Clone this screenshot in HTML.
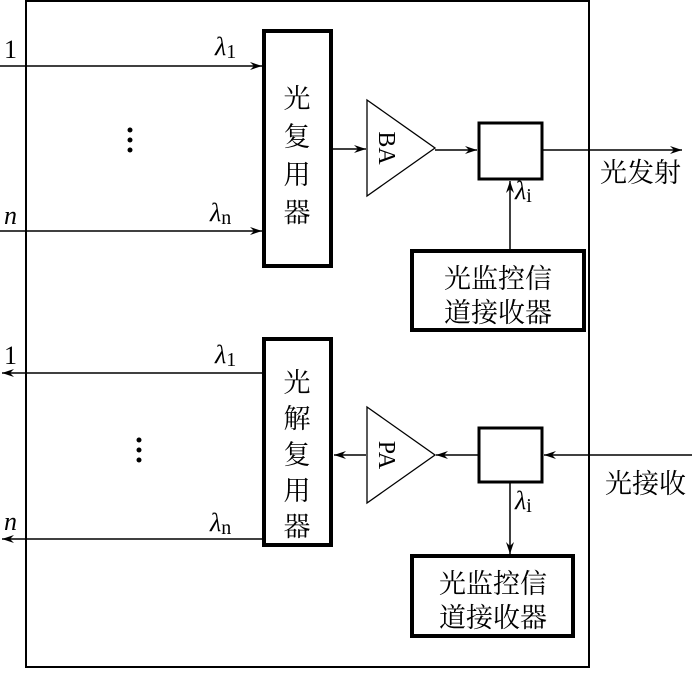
<!DOCTYPE html>
<html><head><meta charset="utf-8"><style>
html,body{margin:0;padding:0;background:#fff}
svg text{font-family:"Liberation Serif","Noto Serif CJK SC",serif;fill:#000}
</style></head><body>
<svg width="692" height="669" viewBox="0 0 692 669" xmlns="http://www.w3.org/2000/svg">
<defs>
<marker id="a" viewBox="0 0 12 8" refX="12" refY="4" markerWidth="12" markerHeight="8" markerUnits="userSpaceOnUse" orient="auto">
<path d="M0,0 L12,4 L0,8 L4,4 Z" fill="#000"/></marker>
</defs>
<g stroke="#000" fill="none">
<rect x="26" y="1" width="563" height="666" stroke-width="2"/>
<rect x="264" y="31" width="67" height="235" stroke-width="4"/>
<rect x="264" y="339" width="67" height="206" stroke-width="4"/>
<rect x="479" y="123" width="63" height="56" stroke-width="3"/>
<rect x="479" y="428" width="63" height="54" stroke-width="3"/>
<rect x="412" y="251" width="172" height="79" stroke-width="4"/>
<rect x="412" y="556" width="161" height="80" stroke-width="4"/>
<path d="M367,100 L435,148 L367,196 Z" stroke-width="1.3"/>
<path d="M367,407 L435,455 L367,503 Z" stroke-width="1.3"/>
<g stroke-width="1.5">
<line x1="0" y1="66" x2="262" y2="66" marker-end="url(#a)"/>
<line x1="0" y1="231" x2="262" y2="231" marker-end="url(#a)"/>
<line x1="333" y1="149" x2="366" y2="149" marker-end="url(#a)"/>
<line x1="435" y1="150" x2="477" y2="150" marker-end="url(#a)"/>
<line x1="543" y1="150" x2="682" y2="150" marker-end="url(#a)"/>
<line x1="510" y1="250" x2="510" y2="181" marker-end="url(#a)"/>
<line x1="262" y1="373" x2="2" y2="373" marker-end="url(#a)"/>
<line x1="262" y1="539" x2="2" y2="539" marker-end="url(#a)"/>
<line x1="366" y1="455" x2="334" y2="455" marker-end="url(#a)"/>
<line x1="478" y1="455" x2="436" y2="455" marker-end="url(#a)"/>
<line x1="692" y1="455" x2="544" y2="455" marker-end="url(#a)"/>
<line x1="510" y1="483" x2="510" y2="554" marker-end="url(#a)"/>
</g></g>
<g fill="#000"><circle cx="130" cy="130" r="2.5"/><circle cx="130" cy="140" r="2.5"/><circle cx="130" cy="150" r="2.5"/>
<circle cx="139" cy="440" r="2.5"/><circle cx="139" cy="450" r="2.5"/><circle cx="139" cy="460" r="2.5"/></g>
<g font-size="26">
<text x="4" y="58">1</text>
<text x="4" y="224" font-style="italic">n</text>
<text x="4" y="364">1</text>
<text x="4" y="530" font-style="italic">n</text>
</g>
<g font-size="26" font-style="italic">
<text x="215" y="55">λ<tspan font-style="normal" font-size="20" dy="3">1</tspan></text>
<text x="210" y="221">λ<tspan font-style="normal" font-size="20" dy="3">n</tspan></text>
<text x="215" y="363">λ<tspan font-style="normal" font-size="20" dy="3">1</tspan></text>
<text x="210" y="531">λ<tspan font-style="normal" font-size="20" dy="3">n</tspan></text>
<text x="515" y="199">λ<tspan font-style="normal" font-size="20" dy="3">i</tspan></text>
<text x="515" y="509">λ<tspan font-style="normal" font-size="20" dy="3">i</tspan></text>
</g>
<g font-size="27" text-anchor="middle">
<text x="297" y="108">光</text><text x="297" y="146">复</text><text x="297" y="184">用</text><text x="297" y="222">器</text>
<text x="297" y="392">光</text><text x="297" y="428">解</text><text x="297" y="464">复</text><text x="297" y="500">用</text><text x="297" y="536">器</text>
</g>
<g font-size="27">
<text x="498" y="288" text-anchor="middle">光监控信</text>
<text x="498" y="322" text-anchor="middle">道接收器</text>
<text x="493" y="593" text-anchor="middle">光监控信</text>
<text x="493" y="627" text-anchor="middle">道接收器</text>
<text x="600" y="182">光发射</text>
<text x="605" y="493">光接收</text>
</g>
<g font-size="24">
<text transform="translate(379,148) rotate(90)" text-anchor="middle">BA</text>
<text transform="translate(379,455) rotate(90)" text-anchor="middle">PA</text>
</g>
</svg>
</body></html>
